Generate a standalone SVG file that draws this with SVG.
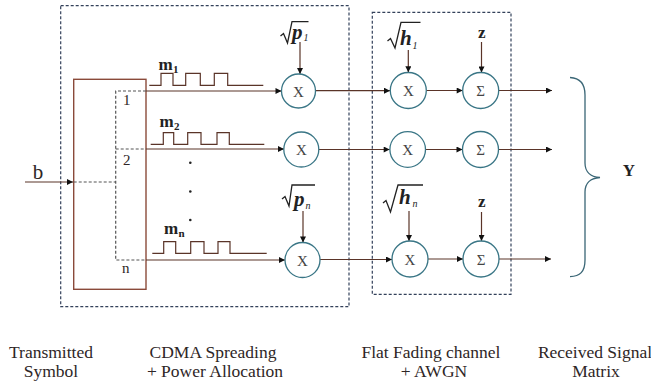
<svg xmlns="http://www.w3.org/2000/svg" width="651" height="385" viewBox="0 0 651 385">
<style>
text{font-family:"Liberation Serif","Times New Roman","DejaVu Serif",serif}
.dbox{fill:none;stroke:#33415a;stroke-width:1.2;stroke-dasharray:3 2}
.idash{fill:none;stroke:#555;stroke-width:1.2;stroke-dasharray:3 2}
.solid{fill:none;stroke:#8a4a3a;stroke-width:1.4}
.wire{fill:none;stroke:#5a3428;stroke-width:1.2}
.circ{fill:#fff;stroke:#3a7686;stroke-width:1.3}
.op{font-size:15px;fill:#444;text-anchor:middle}
.lbl{font-size:17.5px;fill:#2e2626;text-anchor:middle}
.num{font-size:15px;fill:#2e2626}
.bm{font-size:17px;font-weight:bold;fill:#222}
.sub{font-size:11px;font-weight:bold;fill:#222}
.var{font-size:21px;font-weight:bold;font-style:italic;fill:#222}
.isub{font-size:10px;font-style:italic;fill:#222}
.rad{fill:none;stroke:#222;stroke-width:1.3}
</style>
<defs>
<marker id="ah" viewBox="0 0 10 10" refX="10" refY="5" markerWidth="7" markerHeight="6" markerUnits="userSpaceOnUse" orient="auto">
<path d="M0,0 L10,5 L0,10 z" fill="#111"/>
</marker>
</defs>

<g id="boxes">
<rect class="dbox" x="60.7" y="5.7" width="288.3" height="301"/>
<rect class="dbox" x="372.3" y="12.3" width="138.7" height="282"/>
</g>

<g id="demux">
<rect class="solid" x="73.7" y="79.3" width="72.3" height="210"/>
<path class="idash" d="M73.7,182 H115.7 M146,91 H115.7 V260 H146 M115.7,149 H146"/>
<text class="num" x="123" y="105">1</text>
<text class="num" x="123" y="165">2</text>
<text class="num" x="122" y="272.5">n</text>
</g>

<g id="input-b">
<text x="38" y="179" font-size="21" fill="#2e2626" text-anchor="middle">b</text>
</g>

<g id="code-m1">
<path class="wire" d="M149.3,85.3 H161 V73.3 H173 V85.3 H185.7 V73.3 H200.3 V85.3 H214.3 V73.3 H227.7 V85.3 H263.3"/>
<text class="bm" x="158.5" y="70">m</text><text class="sub" x="173" y="73">1</text>
</g>
<g id="code-m2">
<path class="wire" d="M150.7,144.3 H163.3 V132.7 H173.7 V144.3 H187.7 V132.7 H201 V144.3 H217 V132.7 H229.3 V144.3 H264.3"/>
<text class="bm" x="159.5" y="127">m</text><text class="sub" x="174" y="130">2</text>
</g>
<g id="code-mn">
<path class="wire" d="M152.3,253.3 H163.7 V241.7 H175.7 V253.3 H190.7 V241.7 H204 V253.3 H218 V241.7 H230 V253.3 H266.7"/>
<text class="bm" x="164" y="234">m</text><text class="sub" x="178.5" y="237">n</text>
</g>

<g id="dots">
<circle cx="190.3" cy="162.7" r="1.3" fill="#222"/>
<circle cx="190.3" cy="191.5" r="1.3" fill="#222"/>
<circle cx="190.3" cy="220" r="1.3" fill="#222"/>
</g>

<g id="sqrt-p1">
<path class="rad" d="M280.5,36 L283.5,33.5 L287.5,43 L292,21.7 H308.5"/>
<text class="var" x="292" y="39">p</text><text class="isub" x="303.5" y="41">1</text>
</g>
<g id="sqrt-pn">
<path class="rad" d="M282,199 L285,196.5 L289,206 L292,185 H315"/>
<text class="var" x="294" y="206">p</text><text class="isub" x="305.5" y="209">n</text>
</g>
<g id="sqrt-h1">
<path class="rad" d="M387.5,41 L390.5,38.5 L395,48 L401,22.3 H420.5"/>
<text class="var" x="400" y="45">h</text><text class="isub" x="412.5" y="49">1</text>
</g>
<g id="sqrt-hn">
<path class="rad" d="M383,203 L386,200.5 L390.5,212 L398,185 H423"/>
<text class="var" x="399" y="204">h</text><text class="isub" x="412.5" y="207">n</text>
</g>
<g id="noise-z1"><text class="bm" x="481.7" y="38" text-anchor="middle">z</text></g>
<g id="noise-zn"><text class="bm" x="481.7" y="206.5" text-anchor="middle">z</text></g>

<g id="connectors">
<path class="wire" d="M25,182 H73" marker-end="url(#ah)"/>
<path class="wire" d="M146,91 H281.5" marker-end="url(#ah)"/>
<path class="wire" d="M146,149 H284" marker-end="url(#ah)"/>
<path class="wire" d="M146,260 H285" marker-end="url(#ah)"/>
<path class="wire" d="M300,42 V74" marker-end="url(#ah)"/>
<path class="wire" d="M303,211 V242.5" marker-end="url(#ah)"/>
<path class="wire" d="M315.5,90.7 H390" marker-end="url(#ah)"/>
<path class="wire" d="M318.5,149.5 H389.7" marker-end="url(#ah)"/>
<path class="wire" d="M320,259.5 H392" marker-end="url(#ah)"/>
<path class="wire" d="M408.3,50 V72.3" marker-end="url(#ah)"/>
<path class="wire" d="M409,211 V241" marker-end="url(#ah)"/>
<path class="wire" d="M481.5,42 V72.5" marker-end="url(#ah)"/>
<path class="wire" d="M481.5,212 V241" marker-end="url(#ah)"/>
<path class="wire" d="M426.5,90.5 H462.7" marker-end="url(#ah)"/>
<path class="wire" d="M425.5,149.5 H462.5" marker-end="url(#ah)"/>
<path class="wire" d="M428,259 H463" marker-end="url(#ah)"/>
<path class="wire" d="M498.7,90.5 H552" marker-end="url(#ah)"/>
<path class="wire" d="M498.5,149.5 H552" marker-end="url(#ah)"/>
<path class="wire" d="M499,259 H551" marker-end="url(#ah)"/>
</g>

<g id="mult-p1"><circle class="circ" cx="298.5" cy="91" r="17"/><text class="op" x="298.5" y="96.5">X</text></g>
<g id="mult-p2"><circle class="circ" cx="301.3" cy="149.5" r="17.5"/><text class="op" x="301.3" y="155">X</text></g>
<g id="mult-pn"><circle class="circ" cx="302.5" cy="260" r="17.5"/><text class="op" x="302.5" y="265.5">X</text></g>
<g id="mult-h1"><circle class="circ" cx="408.3" cy="90.5" r="18"/><text class="op" x="408.3" y="96">X</text></g>
<g id="mult-h2"><circle class="circ" cx="407.7" cy="149.5" r="17.8"/><text class="op" x="407.7" y="155">X</text></g>
<g id="mult-hn"><circle class="circ" cx="410" cy="259" r="18"/><text class="op" x="410" y="264.5">X</text></g>
<g id="sum-1"><circle class="circ" cx="480.7" cy="90.5" r="18"/><text class="op" x="480.7" y="96">Σ</text></g>
<g id="sum-2"><circle class="circ" cx="480.5" cy="149.5" r="18"/><text class="op" x="480.5" y="155">Σ</text></g>
<g id="sum-n"><circle class="circ" cx="481" cy="259" r="18"/><text class="op" x="481" y="264.5">Σ</text></g>

<g id="output-Y">
<path fill="none" stroke="#3a6676" stroke-width="1.3" d="M570,77.5 C580,78 585,83 585,95 V163 C585,172 591,177 600,177.5 C591,178 585,183 585,192 V260 C585,272 580,276 570,276.7"/>
<text class="bm" x="629" y="176" text-anchor="middle">Y</text>
</g>

<g id="captions">
<text class="lbl" x="51" y="358">Transmitted</text>
<text class="lbl" x="51" y="377">Symbol</text>
<text class="lbl" x="213" y="358">CDMA Spreading</text>
<text class="lbl" x="215" y="377">+ Power Allocation</text>
<text class="lbl" x="431" y="358">Flat Fading channel</text>
<text class="lbl" x="434" y="377">+ AWGN</text>
<text class="lbl" x="595" y="358">Received Signal</text>
<text class="lbl" x="596" y="377">Matrix</text>
</g>
</svg>
